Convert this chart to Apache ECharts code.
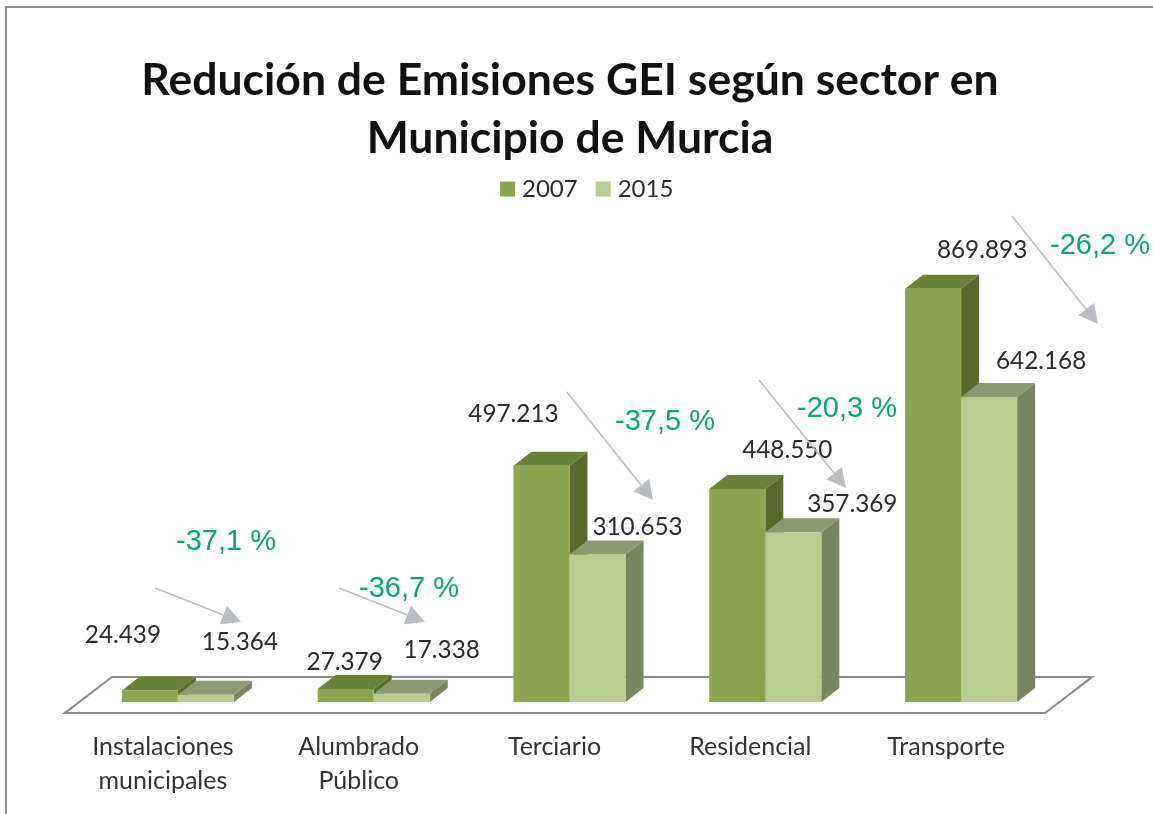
<!DOCTYPE html>
<html>
<head>
<meta charset="utf-8">
<style>html,body{margin:0;padding:0;background:#fff}#c{width:1153px;height:814px}</style>
<script src="https://cdn.jsdelivr.net/npm/echarts@6/dist/echarts.min.js"></script>
</head>
<body>
<div id="c"></div>
<script>
const categories = ['Instalaciones\nmunicipales', 'Alumbrado\nPúblico', 'Terciario', 'Residencial', 'Transporte'];
const values2007 = [24439, 27379, 497213, 448550, 869893];
const values2015 = [15364, 17338, 310653, 357369, 642168];
const labels2007 = ['24.439', '27.379', '497.213', '448.550', '869.893'];
const labels2015 = ['15.364', '17.338', '310.653', '357.369', '642.168'];
const percentLabels = ['-37,1 %', '-36,7 %', '-37,5 %', '-20,3 %', '-26,2 %'];

// layout of the labels relative to the top of their bar
const offsets2007 = [[-27,-55],[-1,-27],[-28,-52],[50,-39],[49,-39]];
const offsets2015 = [[34,-53],[40,-44],[40,-27],[59,-28],[52,-36]];
// annotation layout (page pixels)
const percentPos = [[226,542],[409,589],[665,422],[847,409],[1100,246]];
const arrows = [[155,588,241,622],[339,588,425,622],[567,392,653,500],[759,380,846,488],[1012,216,1098,324]];

const FONT = 'Lato';
const depthX = 18, depthY = 14;

function barRenderer(side, faces, labels, offsets) {
  return function (params, api) {
    const i = api.value(0);
    const top = api.coord([i, api.value(1)]);
    const base = api.coord([i, 0]);
    const w = api.size([1, 0])[0] * 0.2862;
    const x0 = side < 0 ? top[0] - w : top[0];
    const x1 = x0 + w;
    const y0 = top[1], y1 = base[1];
    const off = offsets[i];
    return {
      type: 'group',
      children: [
        { type: 'polygon', shape: { points: [[x1,y0],[x1+depthX,y0-depthY],[x1+depthX,y1-depthY],[x1,y1]] }, style: { fill: faces.side } },
        { type: 'polygon', shape: { points: [[x0,y0],[x0+depthX,y0-depthY],[x1+depthX,y0-depthY],[x1,y0]] }, style: { fill: faces.top } },
        { type: 'rect', shape: { x: x0, y: y0, width: w, height: y1 - y0 }, style: { fill: faces.front } },
        { type: 'text', z2: 20, style: {
            text: labels[i], x: (x0 + x1) / 2 + off[0], y: y0 + off[1],
            align: 'center', verticalAlign: 'middle',
            font: '24.3px ' + FONT, fill: '#2b2b2b' } }
      ]
    };
  };
}

const graphics = [
  { type: 'polyline', z: 0, shape: { points: [[6,814],[6,7],[1153,7]] }, style: { fill: 'none', stroke: '#8e8e8e', lineWidth: 2 } },
  { type: 'polygon', z: 0, shape: { points: [[65,713],[1045,713],[1092,677],[112,677]] }, style: { fill: '#fff', stroke: '#8c8c8c', lineWidth: 2.2 } }
];
arrows.forEach(function (a) {
  const dx = a[2]-a[0], dy = a[3]-a[1], L = Math.hypot(dx, dy), ux = dx/L, uy = dy/L;
  const hl = 19, hw = 10;
  const bx = a[2]-ux*hl, by = a[3]-uy*hl;
  graphics.push({ type: 'line', z: 10, shape: { x1: a[0], y1: a[1], x2: bx, y2: by }, style: { stroke: '#b9bdc1', lineWidth: 1.6 } });
  graphics.push({ type: 'polygon', z: 10, shape: { points: [[a[2],a[3]],[bx-uy*hw,by+ux*hw],[bx+uy*hw,by-ux*hw]] }, style: { fill: '#b9bdc1' } });
});
percentLabels.forEach(function (t, i) {
  graphics.push({ type: 'text', z: 11, style: { text: t, x: percentPos[i][0], y: percentPos[i][1], align: 'center', verticalAlign: 'middle', font: '29px "Liberation Sans"', fill: '#00a878' } });
});

const chart = echarts.init(document.getElementById('c'), null, { renderer: 'canvas' });
chart.setOption({
  animation: false,
  backgroundColor: '#fff',
  title: {
    text: 'Redución de Emisiones GEI según sector en\nMunicipio de Murcia',
    left: 565, top: 47, textAlign: 'center',
    textStyle: { fontFamily: FONT, fontWeight: 'bold', fontSize: 44.5, lineHeight: 58, color: '#111' }
  },
  legend: {
    left: 495, top: 172, itemWidth: 15, itemHeight: 15, itemGap: 18,
    icon: 'rect',
    textStyle: { fontFamily: FONT, fontSize: 24, color: '#2b2b2b', padding: [0,0,0,2] },
    data: ['2007', '2015']
  },
  grid: { left: 80, right: 94, top: 227, height: 475 },
  xAxis: {
    type: 'category', data: categories,
    axisLine: { show: false }, axisTick: { show: false },
    axisLabel: { fontFamily: FONT, fontSize: 25, color: '#333', lineHeight: 34, margin: 28, padding: [0,30,0,0], interval: 0 }
  },
  yAxis: { type: 'value', min: 0, max: 1000000, show: false, splitLine: { show: false } },
  graphic: graphics,
  series: [
    { name: '2007', type: 'custom', z: 2, itemStyle: { color: '#8aa650' },
      encode: { x: 0, y: 1 },
      data: values2007.map((v, i) => [i, v]),
      renderItem: barRenderer(-1, { front: '#8aa650', top: '#6a7f38', side: '#5a6a2f' }, labels2007, offsets2007) },
    { name: '2015', type: 'custom', z: 3, itemStyle: { color: '#b9cc92' },
      encode: { x: 0, y: 1 },
      data: values2015.map((v, i) => [i, v]),
      renderItem: barRenderer(1, { front: '#b9cc92', top: '#8c9a6f', side: '#78865f' }, labels2015, offsets2015) }
  ]
});
</script>
</body>
</html>
